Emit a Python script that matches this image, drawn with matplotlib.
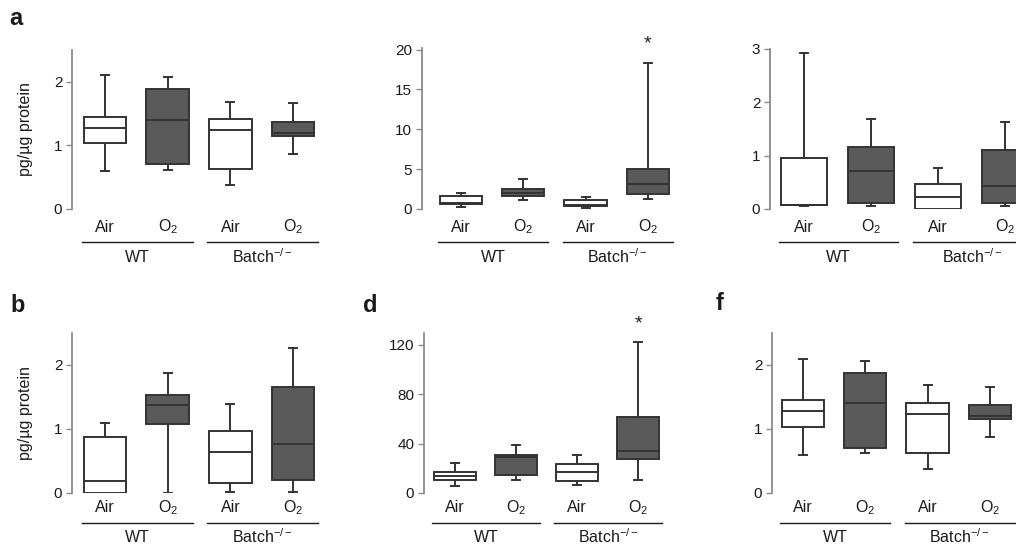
import matplotlib
matplotlib.use('Agg')
import matplotlib.pyplot as plt

plt.rcParams['font.family'] = ['Liberation Sans', 'DejaVu Sans']
plt.rcParams['mathtext.fontset'] = 'custom'
plt.rcParams['mathtext.rm'] = 'Liberation Sans'
plt.rcParams['mathtext.it'] = 'Liberation Sans:italic'

# box stats per group: [low whisker, Q1, median, Q3, high whisker]
groups = ['Air', 'O$_2$', 'Air', 'O$_2$']
genotypes = ['WT', 'Batch$^{-/-}$']

a_stats = [[0.60, 1.03, 1.28, 1.45, 2.10],
           [0.62, 0.70, 1.40, 1.88, 2.07],
           [0.38, 0.63, 1.24, 1.41, 1.68],
           [0.87, 1.15, 1.20, 1.37, 1.66]]
c_stats = [[0.20, 0.58, 0.80, 1.65, 1.95],
           [1.16, 1.57, 2.07, 2.50, 3.76],
           [0.17, 0.33, 0.45, 1.16, 1.49],
           [1.28, 1.86, 3.18, 4.96, 18.35]]
e_stats = [[0.05, 0.08, 0.08, 0.96, 2.92],
           [0.05, 0.11, 0.71, 1.16, 1.69],
           [0.00, 0.00, 0.22, 0.46, 0.76],
           [0.05, 0.11, 0.44, 1.10, 1.64]]
b_stats = [[0.00, 0.00, 0.19, 0.88, 1.09],
           [0.00, 1.08, 1.38, 1.53, 1.87],
           [0.02, 0.15, 0.64, 0.97, 1.39],
           [0.02, 0.21, 0.77, 1.66, 2.27]]
d_stats = [[6.0, 10.8, 14.0, 17.3, 24.0],
           [10.6, 14.9, 29.0, 30.4, 39.0],
           [6.2, 9.8, 17.3, 23.8, 31.0],
           [10.6, 27.9, 33.9, 61.5, 122.0]]
f_stats = a_stats

W, H = 1016, 548
fig = plt.figure(figsize=(W / 100, H / 100), dpi=100)

dark = '#5a5a5a'
edge = '#333333'
spine_c = '#8a8a8a'
txt = '#1a1a1a'

# (stats, spine px, first centre px, spacing px, y0 px, ytop px, ymax, yticks, label, star, ylabel)
panels = [
    (a_stats, 72, 105, 62.7, 209, 50, 2.5, [0, 1, 2], 'a', False, True),
    (c_stats, 422, 461, 62.3, 209, 48, 20.2, [0, 5, 10, 15, 20], None, True, False),
    (e_stats, 770, 804, 67.0, 209, 49, 3.0, [0, 1, 2, 3], None, False, False),
    (b_stats, 72, 105, 62.7, 493, 333, 2.5, [0, 1, 2], 'b', False, True),
    (d_stats, 424, 455, 61.0, 493, 333, 129.5, [0, 40, 80, 120], 'd', True, False),
    (f_stats, 772, 803, 62.3, 493, 333, 2.5, [0, 1, 2], 'f', False, False),
]
label_pos = {'a': (9, 25), 'b': (10, 312), 'd': (363, 312), 'f': (716, 310)}

for stats, spine, c1, sp, y0, ytop, ymax, yt, lab, star, ylab in panels:
    xl = 1 - (c1 - spine) / sp
    width = (4.55 - xl) * sp
    ax = fig.add_axes([spine / W, (H - y0) / H, width / W, (y0 - ytop) / H])
    ax.set_xlim(xl, 4.55)
    ax.set_ylim(0, ymax)
    ax.patch.set_alpha(0)

    bstats = [dict(whislo=s[0], q1=s[1], med=s[2], q3=s[3], whishi=s[4], fliers=[])
              for s in stats]
    res = ax.bxp(bstats, positions=[1, 2, 3, 4], widths=0.68, capwidths=0.13,
                 patch_artist=True, manage_ticks=False,
                 boxprops=dict(edgecolor=edge, linewidth=1.4),
                 whiskerprops=dict(color=edge, linewidth=1.4),
                 capprops=dict(color=edge, linewidth=1.4),
                 medianprops=dict(color=edge, linewidth=1.4))
    for i, box in enumerate(res['boxes']):
        box.set_facecolor('white' if i % 2 == 0 else dark)
        box.set_zorder(3)
    for m in res['medians']:
        m.set_zorder(4)

    for side in ['top', 'right', 'bottom']:
        ax.spines[side].set_visible(False)
    ax.spines['left'].set_color(spine_c)
    ax.spines['left'].set_linewidth(1.3)
    ax.set_yticks(yt)
    ax.tick_params(axis='y', length=4, width=1.0, color=spine_c, labelsize=11,
                   labelcolor=txt, pad=3)
    ax.set_xticks([])

    # bottom row sits closer to the figure edge
    if y0 > 300:
        off_lab, off_line, off_gen = 15, 30, 44
    else:
        off_lab, off_line, off_gen = 18, 33, 48

    xt = ax.get_xaxis_transform()
    for i, g in enumerate(groups):
        ax.annotate(g, xy=(i + 1, 0), xycoords=xt, xytext=(0, -off_lab),
                    textcoords='offset pixels', ha='center', va='center',
                    fontsize=11.5, color=txt)
    for j, gt in enumerate(genotypes):
        lo, hi = 2 * j + 0.63, 2 * j + 2.4
        ax.plot([lo, hi], [-off_line / (y0 - ytop)] * 2, transform=xt, color=txt,
                lw=1.0, clip_on=False)
        ax.annotate(gt, xy=((lo + hi) / 2, 0), xycoords=xt, xytext=(0, -off_gen),
                    textcoords='offset pixels', ha='center', va='center',
                    fontsize=11.5, color=txt)

    if star:
        ax.annotate('*', xy=(4, stats[3][4]), xytext=(0, 10),
                    textcoords='offset pixels', ha='center', va='bottom',
                    fontsize=14, color=txt)
    if ylab:
        ax.set_ylabel('pg/\u00b5g protein', fontsize=11.5, color=txt)
        ax.yaxis.set_label_coords(-(spine - 33) / width, 0.5)
    if lab:
        x, y = label_pos[lab]
        fig.text(x / W, (H - y) / H, lab, fontsize=17, fontweight='bold',
                 ha='left', va='baseline', color=txt)

fig.savefig('out.png', dpi=100)
